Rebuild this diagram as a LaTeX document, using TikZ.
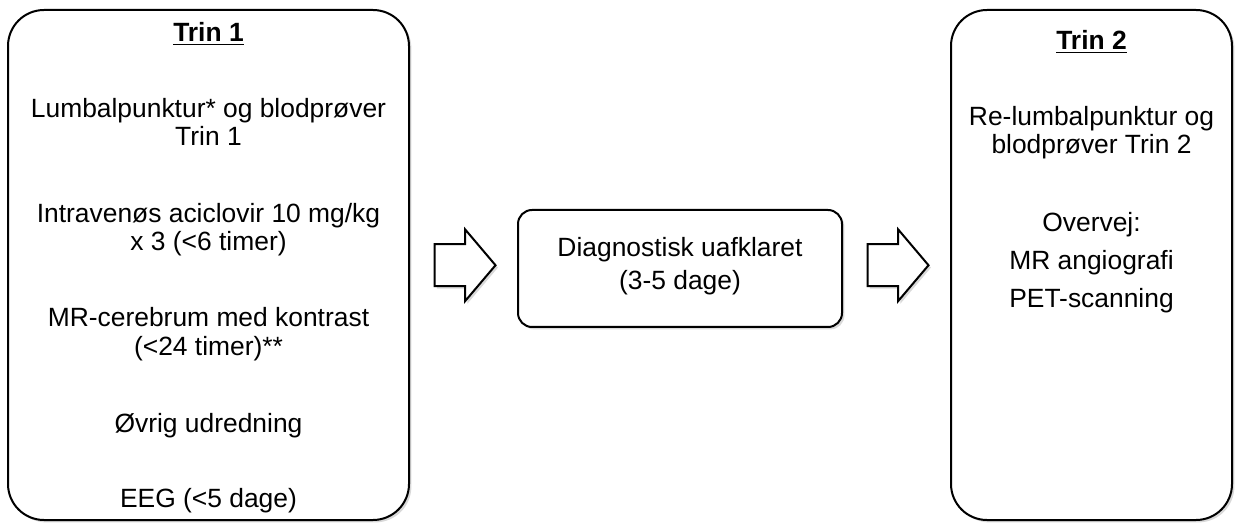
\documentclass[tikz,border=0pt]{standalone}
\usepackage{fontspec}
\setmainfont{Liberation Sans}
\usetikzlibrary{shadows,calc}

\begin{document}
\begin{tikzpicture}[x=0.5pt,y=-0.5pt,
		font=\fontsize{13.2pt}{14pt}\selectfont,
		trin/.style={draw,line width=1pt,fill=white,inner sep=0pt,rounded corners=18pt,
			drop shadow={shadow xshift=1.2pt,shadow yshift=-1.2pt,opacity=.3}},
		pil/.style={draw,line width=1pt,fill=white,line join=miter,
			drop shadow={shadow xshift=1.2pt,shadow yshift=-1.2pt,opacity=.3}},
		blokpil/.pic={\draw[pil] (-30.5,-21) -- (0,-21) -- (0,-36) -- (30.5,0)
			-- (0,36) -- (0,21) -- (-30.5,21) -- cycle;},
		txt/.style={align=center,anchor=base}]
	\useasboundingbox (0,0) rectangle (1235,523);
	% the three boxes
	\node[trin,minimum width=200.5pt,minimum height=255pt] (trin1) at (208.5,265) {};
	\node[trin,minimum width=162pt,minimum height=58.5pt,rounded corners=7pt] (diag) at (680,268.5) {};
	\node[trin,minimum width=140.5pt,minimum height=255pt] (trin2) at (1091.5,265) {};
	% block arrows in the gaps
	\coordinate (pil1) at ($(trin1.east)!.5!(diag.west)+(1.5,-1.5)$);
	\coordinate (pil2) at ($(diag.east)!.5!(trin2.west)+(1.5,-1.5)$);
	\pic at (pil1) {blokpil};
	\pic at (pil2) {blokpil};
	% Trin 1 (base = last line)
	\node[txt] (t1) at (208.5,42) {\underline{\textbf{Trin 1}}};
	\node[txt] (lp1) at (208.5,146) {Lumbalpunktur* og blodprøver\\Trin 1};
	\node[txt] (acic) at (208.5,251) {Intravenøs aciclovir 10 mg/kg\\x 3 (<6 timer)};
	\node[txt] (mr) at (208.5,355) {MR-cerebrum med kontrast\\(<24 timer)**};
	\node[txt] (ovrig) at (208.5,432) {Øvrig udredning};
	\node[txt] (eeg) at (208.5,507) {EEG (<5 dage)};
	% midten
	\node[txt] (uafkl) at (680,290) {Diagnostisk uafklaret\\[2.5pt](3-5 dage)};
	% Trin 2
	\node[txt] (t2) at (1091.5,50) {\underline{\textbf{Trin 2}}};
	\node[txt] (lp2) at (1091.5,154) {Re-lumbalpunktur og\\blodprøver Trin 2};
	\node[txt] (overvej) at (1091.5,307) {Overvej:\\[4.75pt]MR angiografi\\[4.75pt]PET-scanning};
\end{tikzpicture}
\end{document}
